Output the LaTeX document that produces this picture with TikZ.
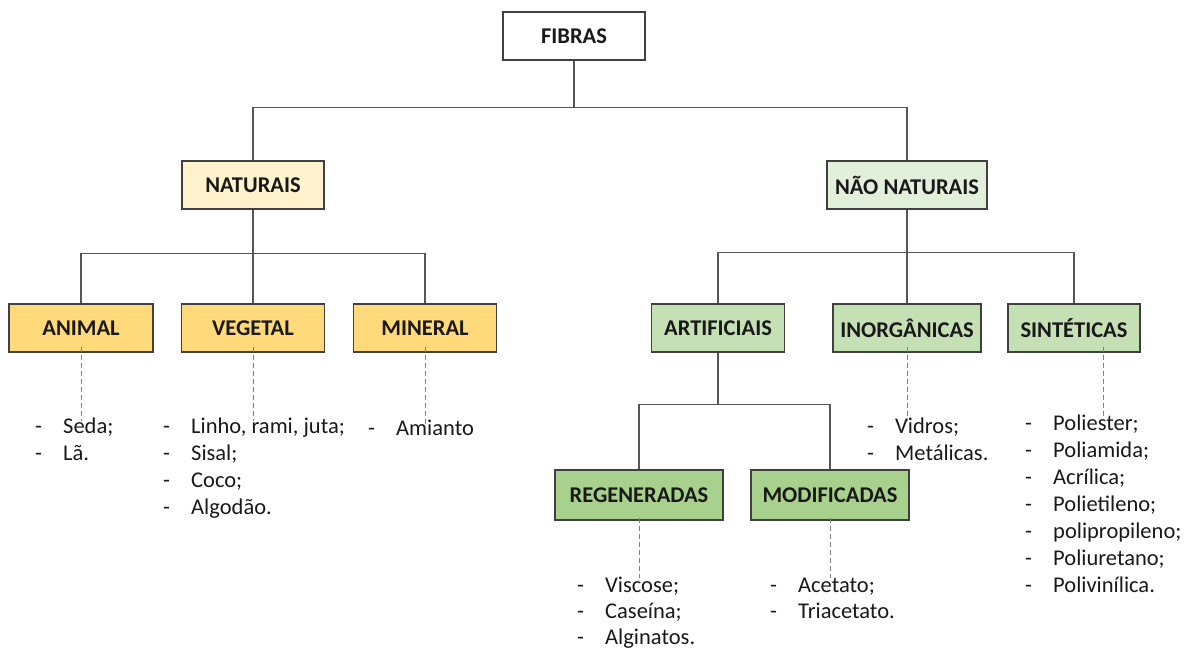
\documentclass[tikz,border=0pt]{standalone}
\usepackage{fontspec}
\setmainfont{Carlito}
\usepackage{tikz}
\usepackage{xcolor}

\definecolor{linegray}{RGB}{85,85,85}
\definecolor{boxgray}{RGB}{64,64,64}
\definecolor{creme}{RGB}{255,242,204}
\definecolor{ouro}{RGB}{255,217,122}
\definecolor{verdeclaro}{RGB}{226,239,218}
\definecolor{verdemedio}{RGB}{197,224,180}
\definecolor{verdeforte}{RGB}{169,209,142}

\tikzset{
  caixa/.style={draw=boxgray,line width=1.1pt,minimum height=48pt,inner sep=0pt,
    font=\bfseries\fontsize{22.5}{26}\selectfont,text=black!90},
  lista/.style={anchor=north west,inner sep=0pt,font=\fontsize{22.5}{27}\selectfont,text=black!90},
  listacurta/.style={lista,font=\fontsize{22.5}{26}\selectfont},
  ramo/.style={draw=linegray,line width=1.1pt},
  pontilhado/.style={draw=gray,line width=0.9pt,dash pattern=on 5pt off 3pt}
}
\newcommand{\itens}[1]{\begin{tabular}{@{}p{28pt}@{}l@{}}#1\end{tabular}}

\begin{document}
\begin{tikzpicture}[x=1pt,y=-1pt]
\useasboundingbox (0,0) rectangle (1198,651);
% Levels of boxes
\node[caixa,fill=white,minimum width=142pt] (fibras) at (574,36) {FIBRAS};
\node[caixa,fill=creme,minimum width=142pt] (nat) at (253,185) {NATURAIS};
\node[caixa,fill=verdeclaro,minimum width=160pt] (nao) at (907,185) {NÃO NATURAIS};

\node[caixa,fill=ouro,minimum width=144pt] (animal) at (81,328) {ANIMAL};
\node[caixa,fill=ouro,minimum width=143pt] (vegetal) at (253,328) {VEGETAL};
\node[caixa,fill=ouro,minimum width=143pt] (mineral) at (425,328) {MINERAL};

\node[caixa,fill=verdemedio,minimum width=133pt] (artif) at (718,328) {ARTIFICIAIS};
\node[caixa,fill=verdemedio,minimum width=148pt] (inorg) at (907,328) {INORGÂNICAS};
\node[caixa,fill=verdemedio,minimum width=132pt] (sint) at (1074,328) {SINTÉTICAS};

\node[caixa,fill=verdeforte,minimum width=168pt,minimum height=50pt] (regen) at (639,495) {REGENERADAS};
\node[caixa,fill=verdeforte,minimum width=158pt,minimum height=50pt] (modif) at (830,495) {MODIFICADAS};

% Lists of fibres
\node[lista] (lanimal) at (35,414) {\itens{- & Seda;\\ - & Lã.}};
\node[lista] (lvegetal) at (163,414) {\itens{- & Linho, rami, juta;\\ - & Sisal;\\ - & Coco;\\ - & Algodão.}};
\node[lista] (lmineral) at (368,416) {\itens{- & Amianto}};
\node[lista] (linorg) at (867,414) {\itens{- & Vidros;\\ - & Metálicas.}};
\node[lista] (lsint) at (1025,411) {\itens{- & Poliester;\\ - & Poliamida;\\ - & Acrílica;\\ - & Polietileno;\\ - & polipropileno;\\ - & Poliuretano;\\ - & Polivinílica.}};
\node[listacurta] (lregen) at (577,574) {\itens{- & Viscose;\\ - & Caseína;\\ - & Alginatos.}};
\node[listacurta] (lmodif) at (770,574) {\itens{- & Acetato;\\ - & Triacetato.}};

% Connections
\draw[ramo] (fibras.south) -- ++(0,47) -| (nat.north);
\draw[ramo] (fibras.south) -- ++(0,47) -| (nao.north);
\draw[ramo] (nat.south) -- ++(0,44) -| (animal.north);
\draw[ramo] (nat.south) -- (vegetal.north);
\draw[ramo] (nat.south) -- ++(0,44) -| (mineral.north);
\draw[ramo] (nao.south) -- ++(0,43) -| (artif.north);
\draw[ramo] (nao.south) -- (inorg.north);
\draw[ramo] (nao.south) -- ++(0,43) -| (sint.north);
\draw[ramo] (artif.south) -- ++(0,52) -| (regen.north);
\draw[ramo] (artif.south) -- ++(0,52) -| (modif.north);

% Dashed links to the lists
\draw[pontilhado] ([yshift=6pt]animal.south) -- ([yshift=-7pt]animal.south |- lanimal.north);
\draw[pontilhado] ([yshift=6pt]vegetal.south) -- ([yshift=-7pt]vegetal.south |- lvegetal.north);
\draw[pontilhado] ([yshift=6pt]mineral.south) -- ([yshift=-9pt]mineral.south |- lmineral.north);
\draw[pontilhado] ([yshift=6pt]inorg.south) -- ([yshift=-7pt]inorg.south |- linorg.north);
\draw[pontilhado] ([xshift=29pt,yshift=6pt]sint.south) -- ([xshift=29pt,yshift=-6pt]sint.south |- lsint.north);
\draw[pontilhado] ([yshift=3pt]regen.south) -- ([yshift=-4pt]regen.south |- lregen.north);
\draw[pontilhado] ([yshift=3pt]modif.south) -- ([yshift=-4pt]modif.south |- lmodif.north);
\end{tikzpicture}
\end{document}
